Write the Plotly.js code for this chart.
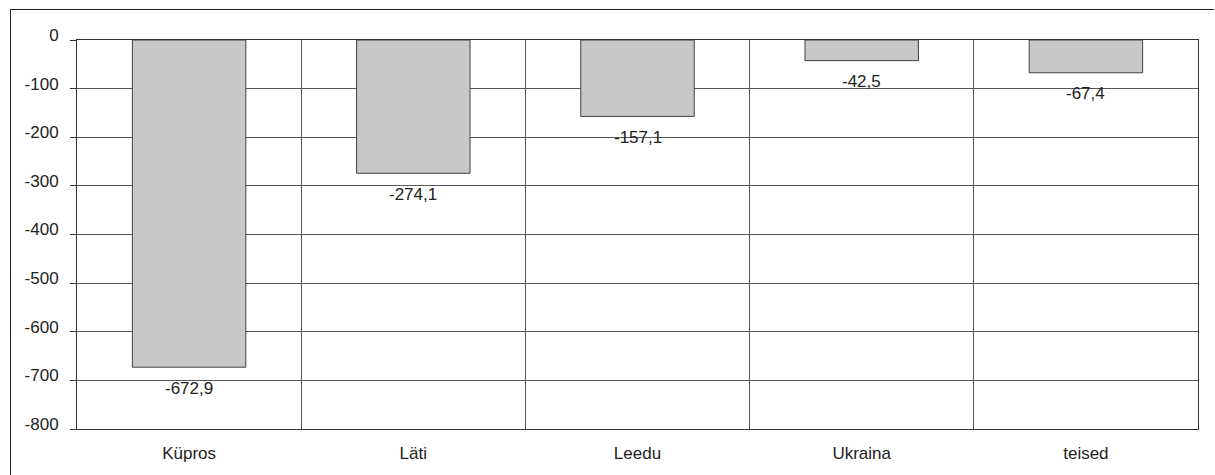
<!DOCTYPE html>
<html>
<head>
<meta charset="utf-8">
<script src="https://cdn.plot.ly/plotly-3.0.1.min.js"></script>
<style>
  html, body { margin: 0; padding: 0; background: #fff; }
  #chart { width: 1215px; height: 475px; }
</style>
</head>
<body>
<div id="chart"></div>
<script>
const categories = ["Küpros", "Läti", "Leedu", "Ukraina", "teised"];
const values = [-672.9, -274.1, -157.1, -42.5, -67.4];
const yTickVals = [0, -100, -200, -300, -400, -500, -600, -700, -800];
const yTickText = ["0", "-100", "-200", "-300", "-400", "-500", "-600", "-700", "-800"];

const FONT = "Liberation Sans, Arial, sans-serif";
const fmt = v => v.toFixed(1).replace(".", ",").replace("\u2212", "-");

const trace = {
  type: "bar",
  x: categories,
  y: values,
  marker: { color: "#c8c8c8", line: { color: "#404040", width: 1 } },
  hoverinfo: "none"
};

const annotations = categories.map((c, i) => ({
  x: c, y: values[i], xref: "x", yref: "y",
  text: fmt(values[i]),
  showarrow: false,
  yanchor: "middle",
  yshift: -21,
  font: { family: FONT, size: 17, color: "#222" }
}));

const L = 77, R = 17, T = 40, B = 46, W = 1215, H = 475;
const pw = W - L - R, ph = H - T - B;
const px = x => (x - L) / pw;
const py = y => 1 - (y - T) / ph;

const layout = {
  width: W, height: H,
  margin: { l: L, r: R, t: T, b: B, pad: 0 },
  paper_bgcolor: "#fff",
  plot_bgcolor: "#fff",
  showlegend: false,
  bargap: 0.494,
  font: { family: FONT, size: 17, color: "#222" },
  xaxis: {
    type: "category",
    tickson: "boundaries",
    showgrid: true,
    gridcolor: "#555",
    gridwidth: 1,
    ticks: "",
    showline: true,
    linecolor: "#333",
    linewidth: 1,
    mirror: true,
    ticklabelstandoff: 9,
    tickfont: { family: FONT, size: 17, color: "#222" },
    fixedrange: true
  },
  yaxis: {
    range: [-800, 0],
    tickvals: yTickVals,
    ticktext: yTickText,
    showgrid: true,
    gridcolor: "#555",
    gridwidth: 1,
    zeroline: false,
    ticks: "outside",
    ticklen: 6,
    tickcolor: "#333",
    showline: true,
    linecolor: "#333",
    linewidth: 1,
    mirror: true,
    ticklabelstandoff: 8,
    ticklabelshift: -5,
    tickfont: { family: FONT, size: 17, color: "#222" },
    fixedrange: true
  },
  annotations: annotations,
  shapes: [
    { type: "line", xref: "paper", yref: "paper",
      x0: px(10.5), x1: px(10.5), y0: py(9.5), y1: py(480),
      line: { color: "#222", width: 1 } },
    { type: "line", xref: "paper", yref: "paper",
      x0: px(10.5), x1: px(1214), y0: py(9.5), y1: py(9.5),
      line: { color: "#222", width: 1 } }
  ]
};

Plotly.newPlot("chart", [trace], layout, { displayModeBar: false, staticPlot: true });
</script>
</body>
</html>
